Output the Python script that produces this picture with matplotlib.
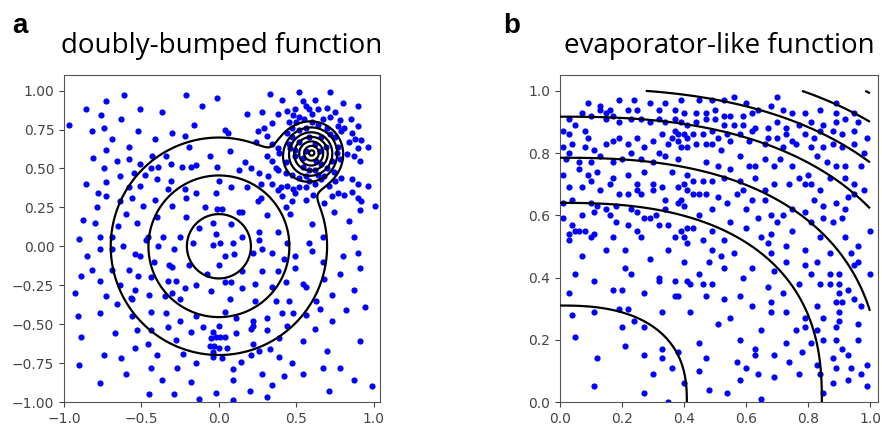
import numpy as np
import matplotlib
matplotlib.use("Agg")
import matplotlib.pyplot as plt

# ---- panel a: doubly-bumped function ----
# scatter samples (x, y)
doubly_pts = [
    (-0.61, 0.97), (-0.21, 0.97), (-0.73, 0.93), (-0.86, 0.88), (-0.51, 0.88), (-0.37, 0.86),
    (-0.11, 0.90), (-0.76, 0.84), (-0.63, 0.82), (-0.97, 0.78), (-0.74, 0.76), (-0.82, 0.74),
    (-0.52, 0.74), (-0.16, 0.78), (-0.30, 0.73), (-0.22, 0.71), (-0.41, 0.69), (-0.69, 0.69),
    (-0.19, 0.64), (-0.58, 0.64), (-0.73, 0.62), (-0.81, 0.57), (-0.66, 0.55), (-0.58, 0.56),
    (-0.43, 0.58), (-0.34, 0.58), (-0.51, 0.53), (-0.74, 0.50), (-0.48, 0.46), (-0.55, 0.47),
    (-0.64, 0.45), (-0.44, 0.50), (-0.39, 0.51), (-0.31, 0.53), (-0.24, 0.51), (-0.18, 0.51),
    (-0.15, 0.52), (-0.40, 0.43), (-0.31, 0.42), (-0.86, 0.40), (-0.73, 0.41), (-0.58, 0.38),
    (-0.51, 0.39), (-0.33, 0.37), (-0.22, 0.37), (-0.78, 0.34), (-0.73, 0.32), (-0.56, 0.31),
    (-0.64, 0.29), (-0.41, 0.30), (-0.21, 0.31), (-0.15, 0.34), (-0.49, 0.26), (-0.30, 0.26),
    (-0.09, 0.25), (-0.79, 0.25), (-0.60, 0.21), (-0.88, 0.17), (-0.80, 0.15), (-0.65, 0.13),
    (-0.53, 0.15), (-0.40, 0.19), (-0.21, 0.19), (-0.13, 0.12),
    (-0.01, 0.95), (0.33, 0.98), (0.52, 0.99), (0.72, 0.99), (0.41, 0.94), (0.54, 0.93),
    (0.62, 0.94), (0.80, 0.92), (0.90, 0.90), (0.18, 0.85), (0.28, 0.86), (0.38, 0.85),
    (0.44, 0.87), (0.49, 0.88), (0.56, 0.90), (0.58, 0.88), (0.64, 0.88), (0.70, 0.89),
    (0.75, 0.86), (0.34, 0.79), (0.45, 0.80), (0.52, 0.83), (0.72, 0.83), (0.78, 0.81),
    (0.85, 0.82), (0.04, 0.75), (0.06, 0.73), (0.25, 0.74), (0.29, 0.76), (0.31, 0.71),
    (0.81, 0.76), (0.79, 0.74), (0.86, 0.73), (0.90, 0.77), (0.24, 0.67), (0.34, 0.66),
    (0.38, 0.63), (0.84, 0.67), (0.88, 0.69), (0.92, 0.68), (0.96, 0.64), (0.07, 0.61),
    (-0.06, 0.58), (0.17, 0.54), (0.21, 0.50), (0.31, 0.58), (0.34, 0.55), (0.37, 0.50),
    (0.39, 0.60), (0.83, 0.59), (0.87, 0.58), (0.90, 0.63), (0.91, 0.55), (0.26, 0.47),
    (0.32, 0.45), (0.38, 0.49), (-0.01, 0.51), (0.13, 0.49), (0.00, 0.42), (0.08, 0.38),
    (0.18, 0.38), (0.27, 0.40), (0.34, 0.40), (0.38, 0.36), (0.40, 0.38), (0.44, 0.39),
    (0.48, 0.37), (0.52, 0.38), (0.41, 0.32), (0.49, 0.34), (0.56, 0.38), (0.58, 0.42),
    (0.62, 0.40), (0.66, 0.43), (0.71, 0.39), (0.75, 0.42), (0.79, 0.44), (0.86, 0.43),
    (0.90, 0.40), (0.96, 0.39), (-0.02, 0.34), (0.25, 0.29), (0.27, 0.31), (0.43, 0.25),
    (0.47, 0.29), (0.56, 0.30), (0.61, 0.33), (0.68, 0.28), (0.73, 0.32), (0.77, 0.34),
    (0.81, 0.33), (0.86, 0.35), (0.90, 0.31), (0.92, 0.29), (1.01, 0.26), (-0.01, 0.24),
    (0.02, 0.24), (0.13, 0.22), (0.15, 0.22), (0.31, 0.20), (0.46, 0.21), (0.74, 0.22),
    (0.84, 0.16), (0.91, 0.23), (0.60, 0.14), (-0.04, 0.15), (0.08, 0.14),
    (0.44, 0.73), (0.47, 0.70), (0.52, 0.75), (0.56, 0.76), (0.64, 0.78), (0.70, 0.76),
    (0.75, 0.70), (0.46, 0.63), (0.49, 0.58), (0.54, 0.51), (0.58, 0.49), (0.62, 0.49),
    (0.66, 0.53), (0.73, 0.55), (0.76, 0.60), (0.77, 0.64), (0.43, 0.54), (0.47, 0.46),
    (0.56, 0.45), (0.68, 0.45), (0.52, 0.67), (0.56, 0.61), (0.62, 0.66), (0.65, 0.61),
    (0.69, 0.64), (0.49, 0.62), (0.50, 0.80), (0.55, 0.82), (0.60, 0.80), (0.67, 0.82),
    (0.47, 0.76), (0.72, 0.72), (0.45, 0.66), (0.78, 0.56), (0.74, 0.48), (0.52, 0.44),
    (0.64, 0.46), (0.43, 0.47), (0.70, 0.50), (0.58, 0.70), (0.63, 0.55), (0.54, 0.57),
    (0.66, 0.70), (0.60, 0.85), (0.48, 0.84), (0.77, 0.77),
    (-0.90, 0.05), (-0.77, 0.06), (-0.69, 0.06), (-0.77, -0.02), (-0.85, -0.06), (-0.69, -0.02),
    (-0.62, 0.00), (-0.47, 0.04), (-0.46, 0.06), (-0.36, 0.06), (-0.39, 0.00), (-0.25, 0.06),
    (-0.29, -0.02), (-0.54, -0.05), (-0.51, -0.06), (-0.17, 0.02), (-0.89, -0.19), (-0.82, -0.15),
    (-0.77, -0.22), (-0.69, -0.15), (-0.58, -0.15), (-0.52, -0.19), (-0.42, -0.10), (-0.44, -0.20),
    (-0.32, -0.12), (-0.30, -0.13), (-0.19, -0.12), (-0.33, -0.22), (-0.28, -0.22), (-0.22, -0.27),
    (-0.15, -0.25), (-0.93, -0.30), (-0.73, -0.32), (-0.64, -0.25), (-0.56, -0.34), (-0.54, -0.28),
    (-0.45, -0.31), (-0.35, -0.32), (-0.30, -0.30), (-0.25, -0.34), (-0.66, -0.37), (-0.57, -0.33),
    (-0.91, -0.45), (-0.77, -0.43), (-0.56, -0.45), (-0.44, -0.42), (-0.34, -0.43), (-0.25, -0.48),
    (-0.15, -0.45), (-0.89, -0.58), (-0.67, -0.56), (-0.53, -0.54), (-0.44, -0.54), (-0.33, -0.52),
    (-0.28, -0.60), (-0.18, -0.55), (-0.10, -0.52), (-0.54, -0.65), (-0.46, -0.63), (-0.40, -0.70),
    (-0.23, -0.69), (-0.15, -0.75), (-0.74, -0.70), (-0.63, -0.72), (-0.90, -0.76), (-0.60, -0.82),
    (-0.44, -0.78), (-0.27, -0.78), (-0.77, -0.88), (-0.37, -0.86), (-0.18, -0.87), (-0.45, -0.95),
    (-0.29, -0.95), (-0.13, -0.98),
    (-0.02, 0.08), (0.15, 0.06), (0.26, 0.09), (0.38, 0.09), (-0.04, 0.01), (0.01, 0.02),
    (0.09, 0.02), (0.26, 0.04), (0.44, 0.02), (0.58, 0.02), (0.60, -0.03), (0.67, 0.06),
    (0.87, 0.06), (0.90, -0.04), (0.80, -0.06), (0.04, -0.06), (0.10, -0.05), (0.22, -0.04),
    (0.28, -0.02), (0.34, -0.04), (0.42, -0.08), (0.49, -0.06), (0.00, -0.12), (-0.08, -0.18),
    (0.15, -0.16), (0.28, -0.16), (0.38, -0.16), (0.49, -0.14), (0.67, -0.10), (0.78, -0.18),
    (0.91, -0.14), (-0.05, -0.29), (0.04, -0.23), (0.08, -0.23), (0.15, -0.27), (0.23, -0.24),
    (0.34, -0.26), (0.43, -0.23), (0.54, -0.24), (0.56, -0.26), (0.68, -0.21), (0.73, -0.31),
    (0.87, -0.28), (0.07, -0.34), (0.23, -0.35), (0.37, -0.35), (0.45, -0.35), (0.63, -0.35),
    (0.65, -0.40), (0.82, -0.41), (0.94, -0.39), (0.04, -0.42), (0.11, -0.46), (0.22, -0.48),
    (0.21, -0.53), (0.31, -0.46), (0.41, -0.43), (0.48, -0.43), (0.56, -0.44), (0.73, -0.48),
    (0.00, -0.51), (-0.04, -0.55), (-0.05, -0.59), (-0.02, -0.58), (0.01, -0.58), (0.04, -0.58),
    (0.11, -0.56), (0.22, -0.51), (0.31, -0.54), (0.44, -0.51), (0.62, -0.53), (-0.06, -0.64),
    (-0.03, -0.64), (0.00, -0.65), (0.05, -0.65), (-0.04, -0.68), (0.02, -0.72), (-0.04, -0.71),
    (0.09, -0.79), (0.22, -0.63), (0.21, -0.70), (0.26, -0.67), (0.33, -0.66), (0.39, -0.59),
    (0.39, -0.71), (0.54, -0.61), (0.70, -0.67), (0.91, -0.61), (0.47, -0.75), (0.14, -0.74),
    (0.09, -0.86), (0.28, -0.82), (0.42, -0.83), (0.54, -0.82), (0.67, -0.78), (0.78, -0.78),
    (0.87, -0.86), (0.99, -0.90), (0.34, -0.89), (0.20, -0.93), (-0.02, -0.94), (0.31, -0.97),
    (0.71, -0.93), (0.09, -0.99),
]

# function shape: broad gaussian at origin + narrow cone-like bump
broad_center = (0.0, 0.0)
broad_width = 0.45
narrow_center = (0.6, 0.6)
narrow_radius = 0.21
narrow_height = 2.1
narrow_soft = 0.025
doubly_levels = [0.3, 0.6, 0.9, 1.2, 1.5, 1.8, 2.1]

# ---- panel b: evaporator-like function ----
evap_pts = [
    (0.09, 0.96), (0.13, 0.95), (0.13, 0.94), (0.15, 0.93), (0.16, 0.94), (0.19, 0.97),
    (0.22, 0.94), (0.24, 0.97), (0.25, 0.94), (0.29, 0.96), (0.32, 0.94), (0.34, 0.96),
    (0.37, 0.94), (0.39, 0.97), (0.40, 0.93), (0.03, 0.91), (0.07, 0.93), (0.10, 0.92),
    (0.15, 0.91), (0.17, 0.92), (0.19, 0.90), (0.23, 0.91), (0.26, 0.91), (0.29, 0.90),
    (0.32, 0.91), (0.34, 0.90), (0.37, 0.91), (0.39, 0.90), (0.41, 0.89), (0.37, 0.87),
    (0.38, 0.86), (0.40, 0.86), (0.33, 0.86), (0.36, 0.85), (0.38, 0.84), (0.41, 0.85),
    (0.01, 0.87), (0.05, 0.89), (0.08, 0.87), (0.09, 0.85), (0.03, 0.86), (0.01, 0.82),
    (0.04, 0.83), (0.08, 0.82), (0.11, 0.81), (0.15, 0.83), (0.17, 0.84), (0.19, 0.85),
    (0.22, 0.83), (0.25, 0.85), (0.27, 0.82), (0.30, 0.84), (0.32, 0.80), (0.35, 0.83),
    (0.39, 0.82), (0.41, 0.82), (0.02, 0.78), (0.03, 0.80), (0.06, 0.77), (0.10, 0.77),
    (0.13, 0.79), (0.17, 0.77), (0.20, 0.78), (0.23, 0.80), (0.26, 0.78), (0.30, 0.77),
    (0.34, 0.79), (0.38, 0.78), (0.01, 0.73), (0.06, 0.75), (0.09, 0.73), (0.12, 0.74),
    (0.17, 0.72), (0.22, 0.73), (0.25, 0.70), (0.27, 0.74), (0.30, 0.70), (0.33, 0.69),
    (0.36, 0.74), (0.40, 0.70), (0.41, 0.73), (0.03, 0.69), (0.07, 0.69), (0.10, 0.71),
    (0.13, 0.68), (0.16, 0.70), (0.19, 0.67), (0.22, 0.67), (0.25, 0.68), (0.26, 0.67),
    (0.30, 0.68), (0.34, 0.65), (0.38, 0.69), (0.39, 0.65), (0.41, 0.68), (0.01, 0.64),
    (0.04, 0.65), (0.10, 0.64), (0.12, 0.63), (0.15, 0.62), (0.18, 0.63), (0.23, 0.62),
    (0.25, 0.61), (0.27, 0.59), (0.31, 0.60), (0.34, 0.62), (0.38, 0.64), (0.40, 0.63),
    (0.01, 0.59), (0.04, 0.57), (0.07, 0.60), (0.11, 0.61), (0.16, 0.60), (0.18, 0.58),
    (0.22, 0.57), (0.25, 0.55), (0.29, 0.59), (0.32, 0.57), (0.35, 0.57), (0.39, 0.55),
    (0.41, 0.56), (0.03, 0.54), (0.06, 0.55),
    (0.45, 0.97), (0.49, 0.97), (0.53, 0.97), (0.56, 0.98), (0.60, 0.96), (0.70, 0.98),
    (0.44, 0.93), (0.47, 0.93), (0.50, 0.94), (0.53, 0.92), (0.55, 0.92), (0.59, 0.92),
    (0.62, 0.93), (0.64, 0.94), (0.68, 0.95), (0.72, 0.94), (0.75, 0.93), (0.79, 0.93),
    (0.84, 0.94), (0.89, 0.96), (0.89, 0.93), (0.95, 0.93), (0.44, 0.90), (0.47, 0.91),
    (0.50, 0.91), (0.53, 0.89), (0.56, 0.89), (0.59, 0.89), (0.63, 0.88), (0.67, 0.88),
    (0.70, 0.90), (0.73, 0.88), (0.77, 0.89), (0.81, 0.90), (0.85, 0.89), (0.89, 0.90),
    (0.92, 0.91), (0.96, 0.90), (0.43, 0.86), (0.46, 0.86), (0.49, 0.87), (0.51, 0.85),
    (0.54, 0.86), (0.58, 0.86), (0.62, 0.87), (0.67, 0.85), (0.70, 0.85), (0.73, 0.86),
    (0.75, 0.84), (0.79, 0.86), (0.82, 0.85), (0.84, 0.87), (0.88, 0.87), (0.91, 0.86),
    (0.95, 0.87), (0.99, 0.85), (0.44, 0.83), (0.47, 0.83), (0.49, 0.83), (0.52, 0.81),
    (0.55, 0.84), (0.61, 0.84), (0.66, 0.83), (0.72, 0.82), (0.76, 0.83), (0.81, 0.82),
    (0.85, 0.82), (0.88, 0.83), (0.91, 0.82), (0.95, 0.83), (0.98, 0.80), (0.47, 0.77),
    (0.51, 0.76), (0.55, 0.75), (0.58, 0.79), (0.61, 0.76), (0.63, 0.76), (0.66, 0.78),
    (0.69, 0.76), (0.71, 0.78), (0.75, 0.76), (0.80, 0.73), (0.83, 0.79), (0.86, 0.77),
    (0.89, 0.76), (0.92, 0.76), (0.97, 0.76), (0.43, 0.71), (0.46, 0.71), (0.49, 0.71),
    (0.53, 0.72), (0.58, 0.71), (0.63, 0.72), (0.66, 0.68), (0.69, 0.70), (0.74, 0.70),
    (0.77, 0.72), (0.79, 0.70), (0.81, 0.70), (0.84, 0.68), (0.87, 0.72), (0.92, 0.72),
    (0.95, 0.70), (0.98, 0.68), (0.43, 0.67), (0.45, 0.67), (0.47, 0.67), (0.51, 0.66),
    (0.54, 0.64), (0.57, 0.67), (0.59, 0.68), (0.62, 0.65), (0.66, 0.65), (0.70, 0.58),
    (0.72, 0.60), (0.75, 0.62), (0.79, 0.61), (0.82, 0.65), (0.85, 0.63), (0.89, 0.64),
    (0.92, 0.62), (0.93, 0.66), (0.95, 0.67), (0.45, 0.60), (0.49, 0.62), (0.55, 0.58),
    (0.60, 0.62), (0.64, 0.59), (0.68, 0.60), (0.81, 0.58), (0.85, 0.59), (0.88, 0.58),
    (0.91, 0.59), (0.43, 0.56), (0.49, 0.55), (0.60, 0.56),
    (0.03, 0.52), (0.05, 0.55), (0.08, 0.55), (0.10, 0.53), (0.11, 0.54), (0.17, 0.53),
    (0.21, 0.49), (0.26, 0.53), (0.15, 0.49), (0.07, 0.47), (0.29, 0.46), (0.35, 0.49),
    (0.37, 0.53), (0.40, 0.53), (0.41, 0.51), (0.40, 0.45), (0.05, 0.41), (0.11, 0.39),
    (0.21, 0.43), (0.23, 0.41), (0.32, 0.40), (0.32, 0.39), (0.37, 0.39), (0.41, 0.39),
    (0.03, 0.35), (0.17, 0.36), (0.20, 0.36), (0.27, 0.35), (0.37, 0.34), (0.38, 0.34),
    (0.04, 0.28), (0.11, 0.29), (0.19, 0.30), (0.22, 0.30), (0.33, 0.29), (0.20, 0.24),
    (0.24, 0.26), (0.27, 0.24), (0.05, 0.21), (0.21, 0.18), (0.12, 0.14), (0.33, 0.17),
    (0.33, 0.14), (0.38, 0.16), (0.27, 0.15), (0.36, 0.11), (0.30, 0.09), (0.11, 0.05),
    (0.27, 0.03), (0.35, 0.00), (0.40, 0.06),
    (0.46, 0.52), (0.53, 0.52), (0.65, 0.53), (0.68, 0.54), (0.75, 0.55), (0.84, 0.53),
    (0.92, 0.53), (1.00, 0.55), (0.96, 0.50), (0.49, 0.49), (0.56, 0.48), (0.67, 0.51),
    (0.68, 0.48), (0.73, 0.50), (0.79, 0.49), (0.87, 0.48), (0.94, 0.48), (0.96, 0.45),
    (0.48, 0.45), (0.52, 0.47), (0.53, 0.43), (0.62, 0.43), (0.69, 0.42), (0.73, 0.45),
    (0.79, 0.44), (0.83, 0.45), (0.87, 0.41), (0.90, 0.41), (0.95, 0.44), (1.00, 0.41),
    (0.45, 0.41), (0.42, 0.38), (0.46, 0.38), (0.49, 0.38), (0.59, 0.40), (0.67, 0.37),
    (0.77, 0.38), (0.81, 0.41), (0.84, 0.38), (0.87, 0.38), (0.90, 0.38), (0.93, 0.36),
    (0.47, 0.34), (0.53, 0.33), (0.58, 0.34), (0.62, 0.31), (0.68, 0.32), (0.68, 0.29),
    (0.72, 0.35), (0.73, 0.29), (0.83, 0.31), (0.89, 0.32), (0.91, 0.32), (0.95, 0.33),
    (0.97, 0.31), (0.90, 0.35), (0.42, 0.29), (0.55, 0.27), (0.51, 0.25), (0.65, 0.23),
    (0.76, 0.23), (0.79, 0.27), (0.79, 0.24), (0.83, 0.23), (0.85, 0.27), (0.90, 0.29),
    (0.90, 0.26), (0.89, 0.24), (0.96, 0.25), (0.45, 0.19), (0.58, 0.20), (0.63, 0.17),
    (0.63, 0.15), (0.73, 0.19), (0.78, 0.16), (0.81, 0.19), (0.85, 0.20), (0.89, 0.20),
    (0.91, 0.17), (0.93, 0.15), (0.96, 0.20), (0.47, 0.14), (0.57, 0.13), (0.60, 0.11),
    (0.64, 0.09), (0.69, 0.15), (0.74, 0.13), (0.77, 0.09), (0.83, 0.12), (0.84, 0.09),
    (0.88, 0.14), (0.89, 0.11), (0.94, 0.11), (0.97, 0.09), (0.99, 0.12), (0.45, 0.10),
    (0.58, 0.07), (0.69, 0.08), (0.88, 0.06), (0.93, 0.07), (0.99, 0.05), (0.48, 0.04),
    (0.54, 0.03), (0.65, 0.01), (0.85, 0.03),
]

# superellipse-like level sets, evaluated on the unit square only
evap_x_stretch = 1.32
evap_power = 2.5
evap_levels = [0.31, 0.64, 0.785, 0.917, 1.008, 1.10, 1.17]

plt.rcParams['font.family'] = ['DejaVu Sans']
fig = plt.figure(figsize=(8.82, 4.32), dpi=100)

ax1 = fig.add_axes([64 / 882, 30 / 432, 316 / 882, 327 / 432])
ax2 = fig.add_axes([560 / 882, 30 / 432, 318 / 882, 327 / 432])

# panel a
pa = np.array(doubly_pts)
ax1.scatter(pa[:, 0], pa[:, 1], s=20, c='#0000ff', linewidths=0, zorder=2)
gx, gy = np.meshgrid(np.linspace(-1.0, 1.0, 600), np.linspace(-1.0, 1.0, 600))
r_broad = np.hypot(gx - broad_center[0], gy - broad_center[1])
r_narrow = np.hypot(gx - narrow_center[0], gy - narrow_center[1])
cone = narrow_height * narrow_soft / narrow_radius * np.logaddexp(0, (narrow_radius - r_narrow) / narrow_soft)
fa = np.exp(-r_broad**2 / (2 * broad_width**2)) + cone
ax1.contour(gx, gy, fa, levels=doubly_levels, colors='black', linewidths=1.6, zorder=3)
ax1.set_xlim(-1.0, 1.04)
ax1.set_ylim(-1.0, 1.10)
ax1.set_xticks([-1.0, -0.5, 0.0, 0.5, 1.0])
ax1.set_yticks([-1.0, -0.75, -0.5, -0.25, 0.0, 0.25, 0.5, 0.75, 1.0])
ax1.set_title('doubly-bumped function', family='Open Sans', fontsize=20, pad=16)

# panel b
pb = np.array(evap_pts)
ax2.scatter(pb[:, 0], pb[:, 1], s=20, c='#0000ff', linewidths=0, zorder=2)
hx, hy = np.meshgrid(np.linspace(0.0, 1.0, 500), np.linspace(0.0, 1.0, 500))
fb = ((hx / evap_x_stretch)**evap_power + hy**evap_power)**(1.0 / evap_power)
ax2.contour(hx, hy, fb, levels=evap_levels, colors='black', linewidths=1.6, zorder=3)
ax2.set_xlim(0.0, 1.026)
ax2.set_ylim(0.0, 1.051)
ax2.set_xticks([0.0, 0.2, 0.4, 0.6, 0.8, 1.0])
ax2.set_yticks([0.0, 0.2, 0.4, 0.6, 0.8, 1.0])
ax2.set_title('evaporator-like function', family='Open Sans', fontsize=20, pad=16)

for ax in (ax1, ax2):
    ax.tick_params(labelsize=10, colors='#444444', length=3.5)
    for sp in ax.spines.values():
        sp.set_color('#555555')

fig.text(12 / 882, 1 - 33 / 432, 'a', fontsize=20, fontweight='bold', family='Liberation Sans')
fig.text(503 / 882, 1 - 33 / 432, 'b', fontsize=20, fontweight='bold', family='Liberation Sans')

fig.savefig('out.png', dpi=100)
